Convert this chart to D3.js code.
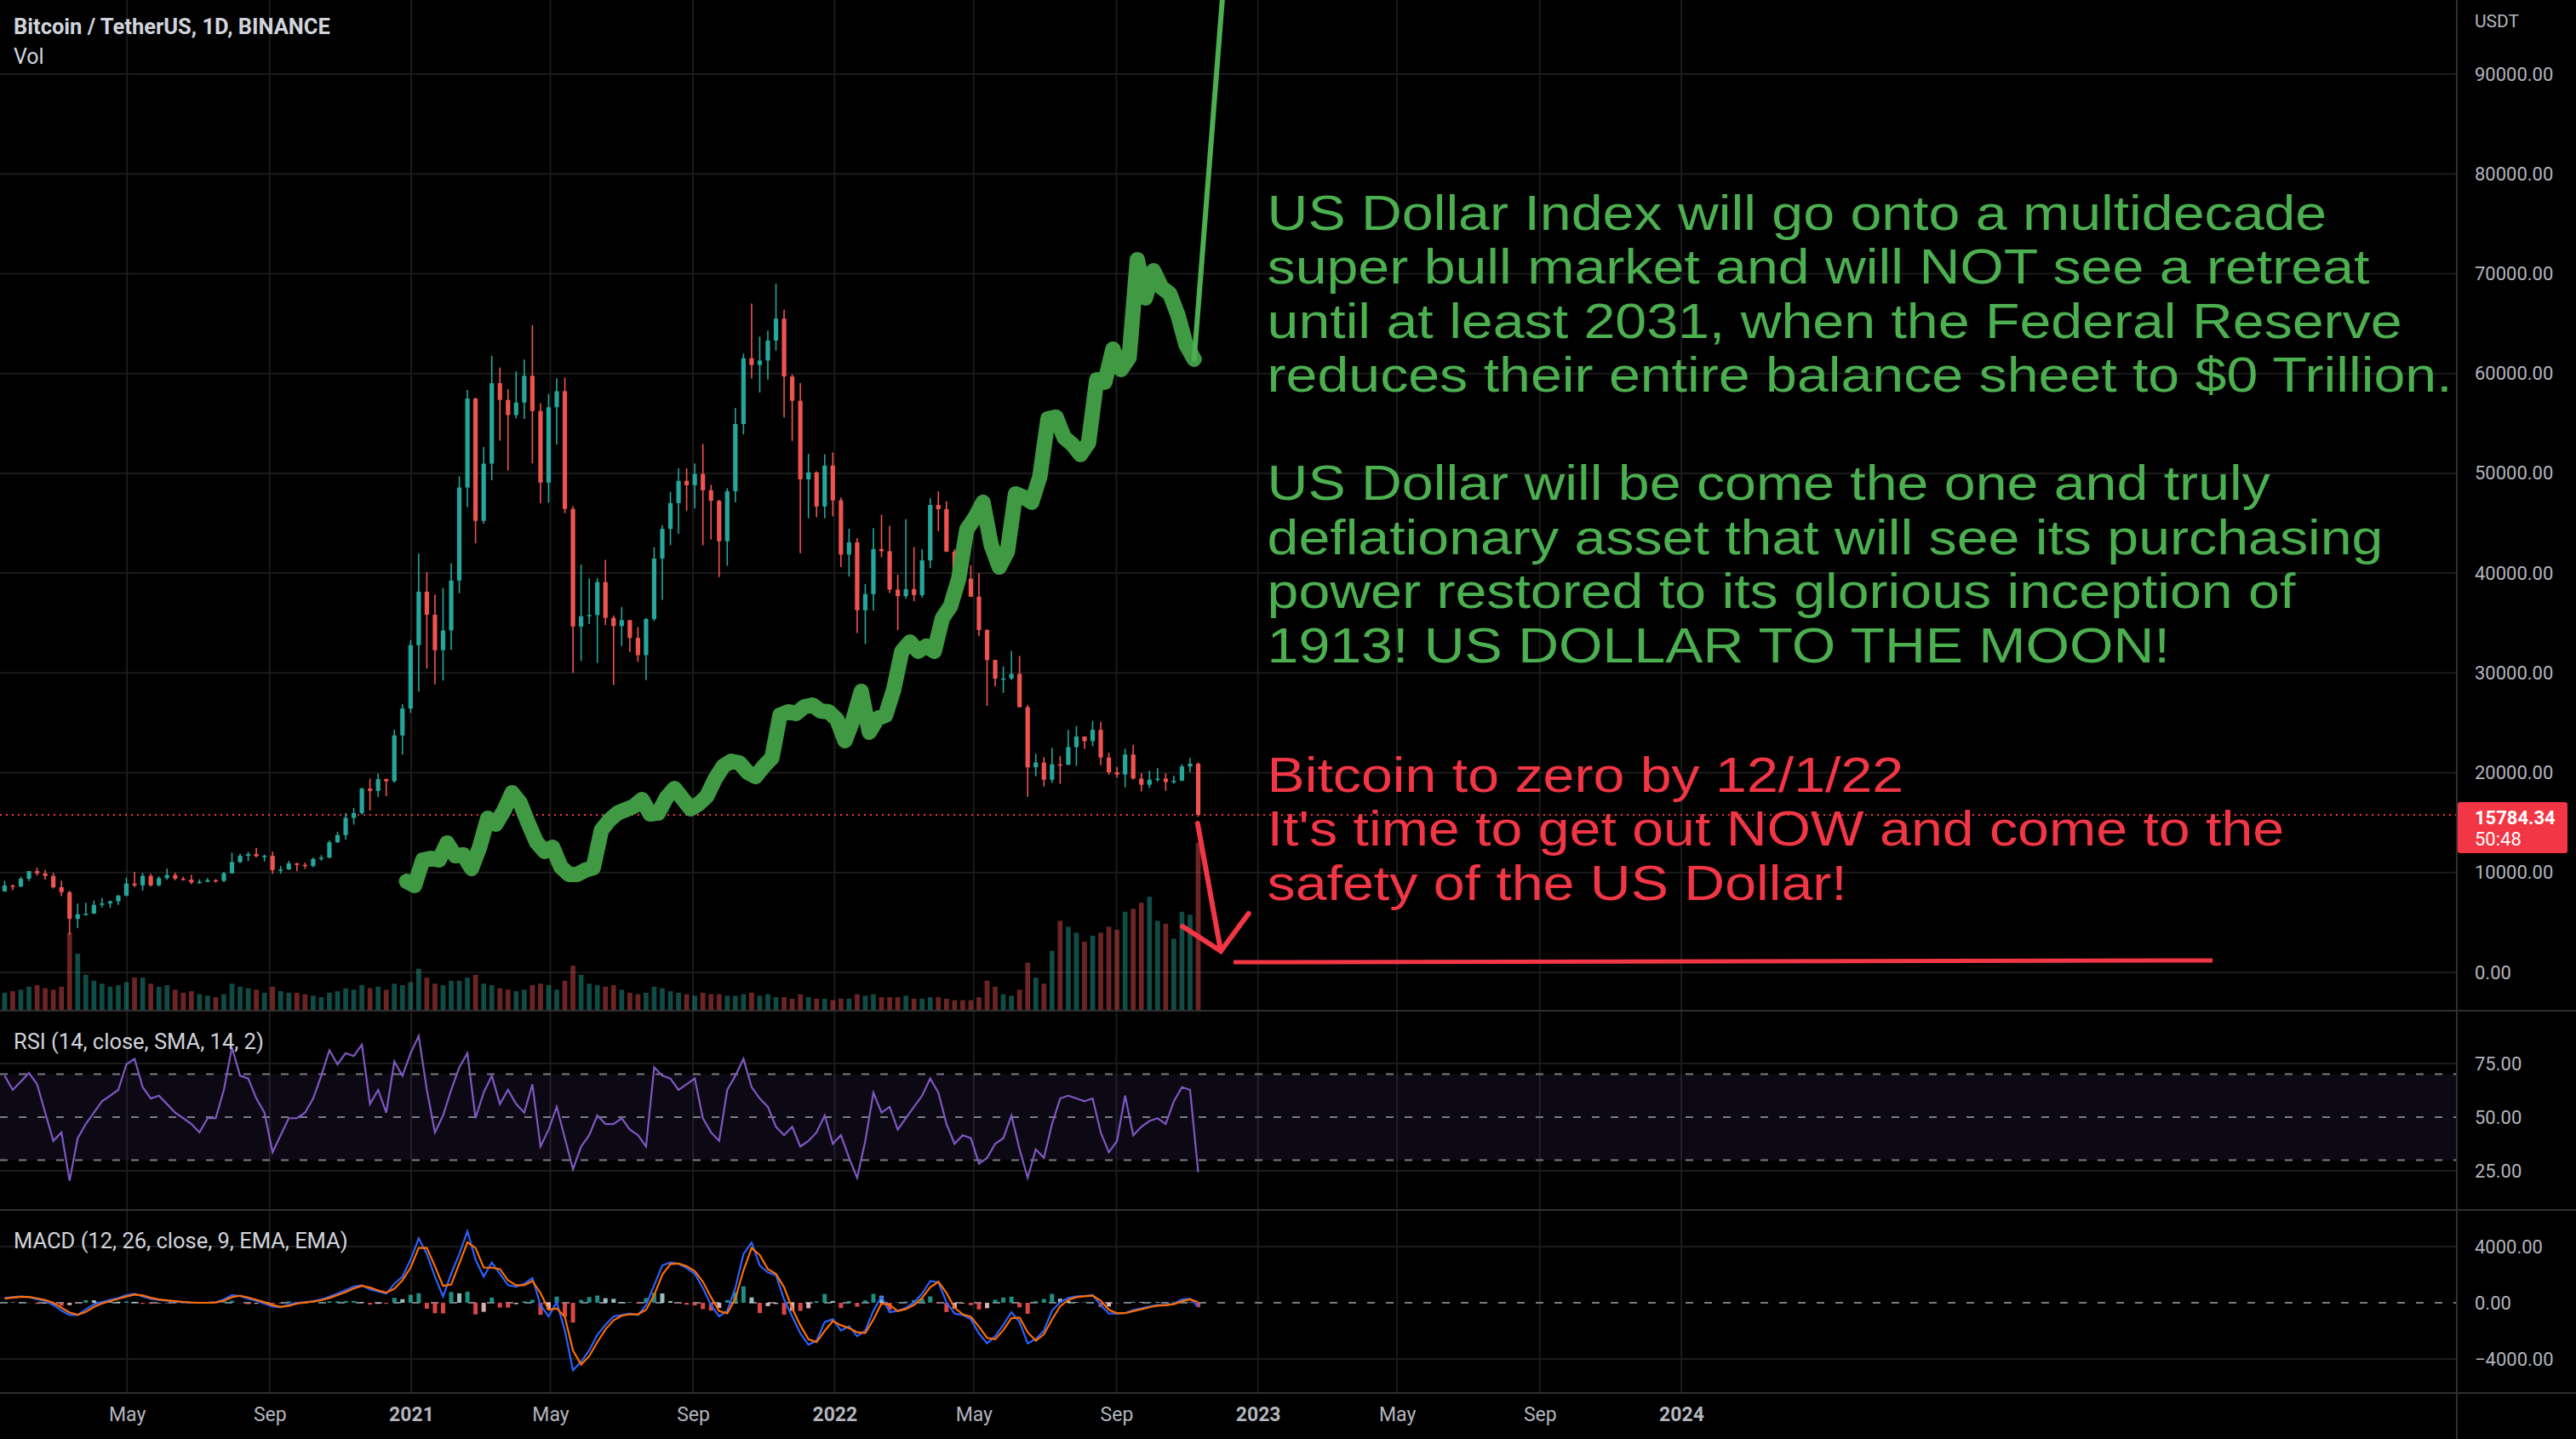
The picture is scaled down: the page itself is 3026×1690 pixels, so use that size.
<!DOCTYPE html>
<html><head><meta charset="utf-8">
<script src="https://cdn.jsdelivr.net/npm/d3@7"></script>
<style>
html,body{margin:0;padding:0;background:#000;}
svg{display:block;}
</style></head><body>
<svg id="chart" width="3026" height="1690"></svg>
<script>
// ---------------- DATA ----------------
const weekStart = "2020-01-13";           // weekly bars, BTCUSDT (Binance)
const btcFirstOpen = 8110;
const btcHigh = [9190,8800,9570,10160,10500,10250,9960,9190,8180,6900,6970,7200,7470,7200,7770,9480,10070,9950,9900,9620,10380,9990,9590,9770,9320,9470,9350,10070,12000,11900,12080,12470,11800,12090,10670,11180,10990,11000,11500,11740,13220,14090,15960,16480,18480,19420,19920,19420,24300,26880,33300,
41950,40100,37850,38530,41000,49700,58350,57580,52640,61780,60600,58420,60200,61400,64850,57000,57950,59520,59600,46700,40840,39470,39500,41330,35750,36600,35290,34600,35500,42600,44800,48150,50500,50500,51000,52950,48850,47330,48500,56550,62000,67000,63700,64300,69000,66400,59900,59050,51950,50200,51900,52100,
47570,44450,43500,38900,44500,45850,44750,39840,45400,42600,42400,47500,48200,47200,42400,42980,40800,40000,34400,31330,30650,32200,31700,26800,21900,21550,22500,21650,24300,24670,23650,25200,25100,22000,20580,22400,22800,19960,20200,20470,19950,19700,20850,21470,21050];
const btcLow = [8080,8230,8550,9140,9700,9290,8410,7630,3782,4440,5690,5860,6500,6460,6760,7620,8530,8200,8600,8630,9270,9230,9200,8830,8890,9060,9000,9050,9900,10950,11150,11530,11120,9880,9880,10250,10140,10370,10530,11200,11400,12980,13290,14800,15800,16200,17570,17650,19000,21810,26000,
28130,30420,28850,29240,32300,37990,46600,43000,44950,49300,53270,50300,55500,55450,51000,47000,47050,52900,46000,30000,31200,34900,31000,34800,28800,32700,32100,31100,29280,35200,37330,42800,43950,46250,46500,42800,43370,39600,40750,47100,53900,59500,58100,59400,62300,55600,53250,42000,45500,45600,45500,45680,
40600,39650,34000,32900,36250,41600,38000,34300,37450,37200,37550,40500,44200,42100,39200,38550,37600,33700,26700,28650,28000,29300,26560,17600,19640,18620,19000,18900,20750,20700,22400,22660,20750,19800,19520,18540,19320,18130,18470,19100,18190,18900,19150,20050,15600];
const btcClose = [8700,8600,9380,10150,9920,9660,8530,8040,5360,5820,5880,6770,6910,7120,7690,8900,8720,9670,8720,9450,9750,9390,9290,9010,9070,9230,9170,9930,11050,11680,11850,11640,11680,10250,10320,10920,10770,10660,11370,11500,13030,13760,15480,15960,18410,18180,19370,19150,23740,26440,32780,
38150,35830,32280,34260,39260,48580,57490,45240,50970,59030,57350,55840,57090,59770,56250,49070,56620,58230,46430,34650,35680,35800,39100,35520,34700,35290,33510,31780,35400,41460,44430,47020,49250,48810,49940,48300,47250,43200,48200,54940,61530,60850,61300,63300,65500,59700,57270,49400,50100,46680,50780,47290,
41860,43080,36280,37900,42410,42200,38350,37700,38400,37800,41280,46830,46410,42160,40380,39450,37640,34300,31300,29430,29450,29900,26570,20550,21030,19300,20840,20800,22580,23630,23170,24300,21520,20050,19830,21830,19420,18800,19310,19420,19070,19210,20630,20900,15784.34];
// average daily volume of each week, thousand BTC
const btcVolume = [60,65,70,80,85,75,70,80,260,190,120,100,90,80,85,95,110,110,90,80,85,70,60,65,55,50,45,55,90,80,75,70,60,80,65,60,60,55,50,45,60,65,75,70,85,75,80,70,90,85,95,
140,110,90,85,100,100,110,120,90,85,75,70,65,70,85,90,85,70,100,150,120,90,85,80,85,70,60,55,60,80,75,65,60,55,50,60,55,55,50,50,55,60,50,55,45,45,40,55,45,40,40,35,
40,40,55,50,55,45,45,45,50,40,40,45,45,40,35,35,35,45,100,80,55,50,70,160,110,90,200,300,280,260,230,250,260,280,270,330,340,360,380,300,290,240,330,320,560];
const rsiValues = [69.3,62.7,66.6,70.6,65.3,52.1,38.9,42.9,20.4,40.2,46.8,52.1,57.4,60.0,62.7,74.6,77.2,64.0,58.7,60.0,56.1,52.1,49.5,46.8,42.9,49.5,49.5,62.7,82.5,69.3,68.0,58.7,52.1,33.6,41.6,49.5,49.5,52.1,58.7,69.3,81.2,74.6,79.8,78.5,83.8,56.1,62.7,52.1,75.9,69.3,
79.8,87.8,62.7,42.9,50.8,62.7,73.2,79.8,49.5,61.4,69.3,56.1,62.7,56.1,52.1,65.3,36.3,44.2,54.8,40.2,25.7,36.3,41.6,50.8,46.8,46.8,49.5,44.2,41.6,36.3,73.2,69.3,68.0,62.7,65.3,68.0,49.5,42.9,38.9,62.7,69.3,77.2,64.0,58.7,54.8,45.5,41.6,45.5,36.3,38.9,
42.9,50.8,37.6,41.6,31.0,21.7,38.9,61.4,52.1,54.8,44.2,49.5,54.8,60.0,68.0,61.4,46.8,37.6,41.6,40.2,28.3,31.0,37.6,40.2,50.8,35.0,21.7,35.0,31.0,46.8,58.7,60.0,58.7,57.4,58.7,42.9,33.6,38.9,60.0,41.6,45.5,48.2,49.5,46.8,57.4,64.0,62.7,24.4];
const macdValues = [343,404,444,404,242,141,-162,-566,-869,-869,-465,-121,40,202,343,545,646,444,283,202,141,81,40,0,0,0,40,242,545,485,283,141,-61,-263,-323,-121,0,40,121,242,444,646,889,1151,1252,949,808,646,1353,1858,
3070,4585,3474,1858,444,2060,3474,5090,3070,1858,2868,2060,1252,1151,1353,1757,-162,-970,40,-1980,-4808,-4202,-3394,-2283,-1576,-970,-869,-768,-869,-162,1252,2666,2868,2767,2464,2060,1050,-162,-970,-566,1050,3474,4282,2666,2161,1959,242,-970,-2182,-2990,
-2687,-1374,-1172,-1980,-1677,-2384,-1980,-566,444,-667,-566,-364,40,646,1555,1454,40,-768,-869,-1172,-2182,-2889,-2384,-1576,-667,-1374,-2889,-2586,-1980,-566,40,343,444,485,545,-162,-768,-768,-727,-525,-404,-263,-162,-162,-61,242,283,-263];
const signalValues = [300,370,420,420,320,200,0,-350,-700,-850,-650,-300,-50,120,270,450,580,520,360,240,170,110,60,20,0,0,20,140,400,500,380,210,40,-160,-290,-220,-60,20,80,180,340,540,760,1020,1200,1080,880,720,1000,1600,
2500,3900,3900,2600,1200,1300,2800,4300,3900,2500,2500,2400,1600,1250,1250,1550,700,-500,-400,-1000,-3400,-4400,-3800,-2800,-1900,-1250,-920,-820,-820,-500,550,2000,2750,2800,2600,2250,1500,400,-600,-750,300,2300,3900,3400,2400,2050,1100,-400,-1600,-2600,
-2800,-2000,-1300,-1600,-1800,-2100,-2150,-1200,-50,-150,-600,-450,-150,350,1100,1500,700,-350,-820,-1000,-1700,-2500,-2600,-1950,-1100,-1050,-2100,-2700,-2250,-1200,-250,200,400,460,510,150,-500,-750,-740,-600,-460,-320,-210,-170,-100,100,250,50];
// US Dollar Index overlay drawn on the USDT price scale, weekly
const dxyStart = "2020-12-28";
const dxyValues = [9130,8700,11260,11430,11260,12970,11690,11770,10410,12540,15440,14850,16210,18000,16980,14930,13050,12120,12540,10580,9810,9810,10240,10490,14250,15270,15960,16300,16640,17320,15870,15960,17490,18430,17410,16380,16890,17660,19370,20650,
21160,20990,20050,19620,20650,21500,25770,26110,25940,26620,26790,26190,26110,25340,23210,25340,28160,24060,25430,25770,28330,32170,33100,32170,32680,32170,35490,36690,39420,44370,45560,47100,42830,40610,42150,47950,47610,47100,49660,55460,
55630,53580,52900,51880,53070,59380,59130,62450,60410,61600,71410,67570,70300,68600,68000,65870,62880,61430];
const dxyProjDates = ["2022-11-07","2022-12-03"];
const dxyProjValues = [61430,100000];
// red drawing
const arrowShaft = [["2022-11-10",14930],["2022-11-30",2130]];
const arrowHead = [["2022-10-28",4600],["2022-11-30",2130],["2022-12-24",5900]];
const zeroLine = [["2022-12-11",1020],["2025-04-03",1200]];
const noteDate = "2023-01-09";
const greenNoteTop = 74400;
const redNoteTop = 18090;
const greenNote = ["US Dollar Index will go onto a multidecade","super bull market and will NOT see a retreat","until at least 2031, when the Federal Reserve","reduces their entire balance sheet to $0 Trillion.","","US Dollar will be come the one and truly","deflationary asset that will see its purchasing","power restored to its glorious inception of","1913! US DOLLAR TO THE MOON!"];
const redNote = ["Bitcoin to zero by 12/1/22","It's time to get out NOW and come to the","safety of the US Dollar!"];
const lastPrice = 15784.34;
const countdown = "50:48";
const priceTicks = [0,10000,20000,30000,40000,50000,60000,70000,80000,90000];
const rsiTicks = [25,50,75];
const rsiBands = [70,50,30];
const macdTicks = [-4000,0,4000];
const timeTicks = ["2020-05-01","2020-09-01","2021-01-01","2021-05-01","2021-09-01","2022-01-01","2022-05-01","2022-09-01","2023-01-01","2023-05-01","2023-09-01","2024-01-01"];
const timeLabels = ["May","Sep","2021","May","Sep","2022","May","Sep","2023","May","Sep","2024"];

// ---------------- LAYOUT ----------------
const W = 3026, H = 1690, plotR = 2886;
const mainB = 1187, rsiT = 1188, rsiB = 1421, macdB = 1636;
const uiFont = "Roboto, 'Liberation Sans', sans-serif";
const axisColor = "#b2b5be", gridColor = "#1b1b1b", sepColor = "#2f2f2f";
const upC = "#26a69a", dnC = "#ef5350";

const parse = d3.utcParse("%Y-%m-%d");
const x = d3.scaleUtc().domain([parse("2021-01-01"), parse("2024-01-01")]).range([483, 1975]);
const yP = d3.scaleLinear().domain([0, 90000]).range([1142, 87]);
const yV = d3.scaleLinear().domain([0, 650]).range([mainB, 958]);
const yR = d3.scaleLinear().domain([25, 75]).range([1375, 1249]);
const yM = d3.scaleLinear().domain([-4000, 4000]).range([1596, 1464]);

const w0 = parse(weekStart);
const weekMid = btcClose.map((_, i) => d3.utcHour.offset(w0, 24 * (7 * i + 3.5)));
const btcOpen = btcClose.map((c, i) => i === 0 ? btcFirstOpen : btcClose[i - 1]);
const pxWeek = x(d3.utcDay.offset(w0, 7)) - x(w0);

const svg = d3.select("#chart");
svg.append("rect").attr("width", W).attr("height", H).attr("fill", "#000");
const defs = svg.append("defs");
defs.append("clipPath").attr("id", "clipMain").append("rect").attr("x", 0).attr("y", 0).attr("width", plotR).attr("height", mainB);
defs.append("clipPath").attr("id", "clipRsi").append("rect").attr("x", 0).attr("y", rsiT).attr("width", plotR).attr("height", rsiB - rsiT);
defs.append("clipPath").attr("id", "clipMacd").append("rect").attr("x", 0).attr("y", rsiB).attr("width", plotR).attr("height", macdB - rsiB);

// ---- grid ----
const grid = svg.append("g");
timeTicks.forEach(t => {
  grid.append("line").attr("x1", x(parse(t))).attr("x2", x(parse(t))).attr("y1", 0).attr("y2", macdB)
    .attr("stroke", gridColor).attr("stroke-width", 2);
});
priceTicks.forEach(v => grid.append("line").attr("x1", 0).attr("x2", plotR).attr("y1", yP(v)).attr("y2", yP(v)).attr("stroke", gridColor).attr("stroke-width", 2));
[75, 25].forEach(v => grid.append("line").attr("x1", 0).attr("x2", plotR).attr("y1", yR(v)).attr("y2", yR(v)).attr("stroke", gridColor).attr("stroke-width", 2));
[4000, -4000].forEach(v => grid.append("line").attr("x1", 0).attr("x2", plotR).attr("y1", yM(v)).attr("y2", yM(v)).attr("stroke", gridColor).attr("stroke-width", 2));

// ---- main pane ----
const main = svg.append("g").attr("clip-path", "url(#clipMain)");
// volume
main.append("g").selectAll("rect").data(btcVolume).join("rect")
  .attr("x", (d, i) => x(weekMid[i]) - pxWeek * 0.3)
  .attr("width", pxWeek * 0.6)
  .attr("y", d => yV(d)).attr("height", d => yV(0) - yV(d))
  .attr("fill", (d, i) => btcClose[i] >= btcOpen[i] ? upC : dnC).attr("opacity", 0.45);
// last price dotted line
main.append("line").attr("x1", 0).attr("x2", plotR).attr("y1", yP(lastPrice)).attr("y2", yP(lastPrice))
  .attr("stroke", "#f23645").attr("stroke-width", 2).attr("stroke-dasharray", "2,5");
// candles
const cg = main.append("g");
btcClose.forEach((c, i) => {
  const col = c >= btcOpen[i] ? upC : dnC;
  const cx = x(weekMid[i]);
  cg.append("line").attr("x1", cx).attr("x2", cx).attr("y1", yP(btcHigh[i])).attr("y2", yP(btcLow[i]))
    .attr("stroke", col).attr("stroke-width", 1.6);
  const yt = yP(Math.max(c, btcOpen[i])), yb = yP(Math.min(c, btcOpen[i]));
  cg.append("rect").attr("x", cx - 2.6).attr("width", 5.2).attr("y", yt).attr("height", Math.max(1.5, yb - yt)).attr("fill", col);
});
// DXY overlay
const d0 = parse(dxyStart);
const dxyPts = dxyValues.map((v, i) => [x(d3.utcDay.offset(d0, 7 * i)), yP(v)]);
main.append("path").attr("d", d3.line()(dxyPts)).attr("fill", "none")
  .attr("stroke", "#3f9a43").attr("stroke-width", 18).attr("stroke-linejoin", "round").attr("stroke-linecap", "round");
main.append("path").attr("d", d3.line()(dxyProjDates.map((d, i) => [x(parse(d)), yP(dxyProjValues[i])])))
  .attr("fill", "none").attr("stroke", "#4caf50").attr("stroke-width", 6).attr("stroke-linecap", "round");
// red arrow + line
const red = "#f23645";
const lp = d3.line().x(d => x(parse(d[0]))).y(d => yP(d[1]));
main.append("path").attr("d", lp(arrowShaft)).attr("fill", "none").attr("stroke", red).attr("stroke-width", 6).attr("stroke-linecap", "round");
main.append("path").attr("d", lp(arrowHead)).attr("fill", "none").attr("stroke", red).attr("stroke-width", 6).attr("stroke-linejoin", "miter").attr("stroke-linecap", "round");
main.append("path").attr("d", lp(zeroLine)).attr("fill", "none").attr("stroke", red).attr("stroke-width", 5);

// notes: one text per line, font sized so line boxes stay within the line step
const noteFont = "'Liberation Sans', Arial, sans-serif";
const lineStep = 63.5;
const noteSize = 56.5;
const probe = svg.append("text").attr("font-family", noteFont).attr("font-size", noteSize).text(greenNote[3]);
const stretch = 1392 / probe.node().getComputedTextLength();
probe.remove();
function note(lines, top, color) {
  const g = svg.append("g").attr("font-family", noteFont).attr("font-size", noteSize).attr("fill", color);
  lines.forEach((s, i) => {
    if (!s) return;
    const t = g.append("text").attr("x", x(parse(noteDate))).attr("y", yP(top) + i * lineStep).text(s);
    const nat = t.node().getComputedTextLength();
    t.attr("textLength", nat * stretch).attr("lengthAdjust", "spacingAndGlyphs");
  });
}
note(greenNote, greenNoteTop, "#4caf50");
note(redNote, redNoteTop, red);

// ---- RSI pane ----
const rsiG = svg.append("g").attr("clip-path", "url(#clipRsi)");
rsiG.append("rect").attr("x", 0).attr("width", plotR).attr("y", yR(70)).attr("height", yR(30) - yR(70)).attr("fill", "rgba(126,87,194,0.10)");
rsiBands.forEach(v => rsiG.append("line").attr("x1", 0).attr("x2", plotR).attr("y1", yR(v)).attr("y2", yR(v))
  .attr("stroke", "#787b86").attr("stroke-width", 2).attr("stroke-dasharray", "9,13"));
rsiG.append("path").attr("d", d3.line().x((d, i) => x(weekMid[i])).y(d => yR(d))(rsiValues))
  .attr("fill", "none").attr("stroke", "#7e57c2").attr("stroke-width", 2.2);

// ---- MACD pane ----
const mg = svg.append("g").attr("clip-path", "url(#clipMacd)");
mg.append("line").attr("x1", 0).attr("x2", plotR).attr("y1", yM(0)).attr("y2", yM(0))
  .attr("stroke", "#787b86").attr("stroke-width", 2).attr("stroke-dasharray", "9,13");
const hist = macdValues.map((m, i) => m - signalValues[i]);
mg.append("g").selectAll("rect").data(hist).join("rect")
  .attr("x", (d, i) => x(weekMid[i]) - 2.5).attr("width", 5)
  .attr("y", d => Math.min(yM(d), yM(0))).attr("height", d => Math.abs(yM(d) - yM(0)))
  .attr("fill", (d, i) => {
    const p = i > 0 ? hist[i - 1] : 0;
    if (d >= 0) return d >= p ? "#26a69a" : "#b2dfdb";
    return d <= p ? "#ff5252" : "#ffcdd2";
  }).attr("opacity", 0.85);
mg.append("path").attr("d", d3.line().x((d, i) => x(weekMid[i])).y(d => yM(d))(macdValues))
  .attr("fill", "none").attr("stroke", "#2962ff").attr("stroke-width", 2.2);
mg.append("path").attr("d", d3.line().x((d, i) => x(weekMid[i])).y(d => yM(d))(signalValues))
  .attr("fill", "none").attr("stroke", "#ff6d00").attr("stroke-width", 2.2);

// ---- separators ----
[mainB, rsiB, macdB].forEach(y => svg.append("line").attr("x1", 0).attr("x2", W).attr("y1", y).attr("y2", y).attr("stroke", sepColor).attr("stroke-width", 2));
svg.append("line").attr("x1", plotR).attr("x2", plotR).attr("y1", 0).attr("y2", H).attr("stroke", sepColor).attr("stroke-width", 2);

// ---- axes ----
const fmt = d3.format(".2f");
function styleAxis(g) {
  g.select(".domain").remove();
  g.selectAll("text").attr("fill", axisColor).attr("font-family", uiFont).attr("font-size", 22);
}
svg.append("g").attr("transform", `translate(${plotR},0)`).call(d3.axisRight(yP).tickValues(priceTicks).tickFormat(fmt).tickSize(0).tickPadding(21)).call(styleAxis);
svg.append("g").attr("transform", `translate(${plotR},0)`).call(d3.axisRight(yR).tickValues(rsiTicks).tickFormat(fmt).tickSize(0).tickPadding(21)).call(styleAxis);
svg.append("g").attr("transform", `translate(${plotR},0)`).call(d3.axisRight(yM).tickValues(macdTicks).tickFormat(fmt).tickSize(0).tickPadding(21)).call(styleAxis);
const tAx = svg.append("g").attr("transform", `translate(0,${macdB})`)
  .call(d3.axisBottom(x).tickValues(timeTicks.map(parse)).tickFormat((d, i) => timeLabels[i]).tickSize(0).tickPadding(17)).call(styleAxis);
tAx.selectAll("text").attr("font-size", 23).attr("font-weight", (d, i) => /^\d/.test(timeLabels[i]) ? 700 : 400);

svg.append("text").attr("x", 2907).attr("y", 32).attr("fill", axisColor).attr("font-family", uiFont).attr("font-size", 21).text("USDT");

// last price label
const ly = yP(lastPrice);
svg.append("rect").attr("x", plotR + 1).attr("y", ly - 15).attr("width", 129).attr("height", 60).attr("rx", 3).attr("fill", red);
svg.append("text").attr("x", 2907).attr("y", ly + 11).attr("fill", "#fff").attr("font-family", uiFont).attr("font-weight", 700).attr("font-size", 22).text(fmt(lastPrice));
svg.append("text").attr("x", 2907).attr("y", ly + 36).attr("fill", "#fff").attr("font-family", uiFont).attr("font-size", 22).text(countdown);

// ---- pane titles ----
const lab = (t, xx, yy, wgt, size) => svg.append("text").attr("x", xx).attr("y", yy).attr("fill", "#d1d4dc")
  .attr("font-family", uiFont).attr("font-weight", wgt).attr("font-size", size).text(t);
lab("Bitcoin / TetherUS, 1D, BINANCE", 16, 40, 700, 25.5);
lab("Vol", 16, 75, 400, 25);
lab("RSI (14, close, SMA, 14, 2)", 16, 1232, 400, 25.5);
lab("MACD (12, 26, close, 9, EMA, EMA)", 16, 1466, 400, 25.5);
</script></body></html>
